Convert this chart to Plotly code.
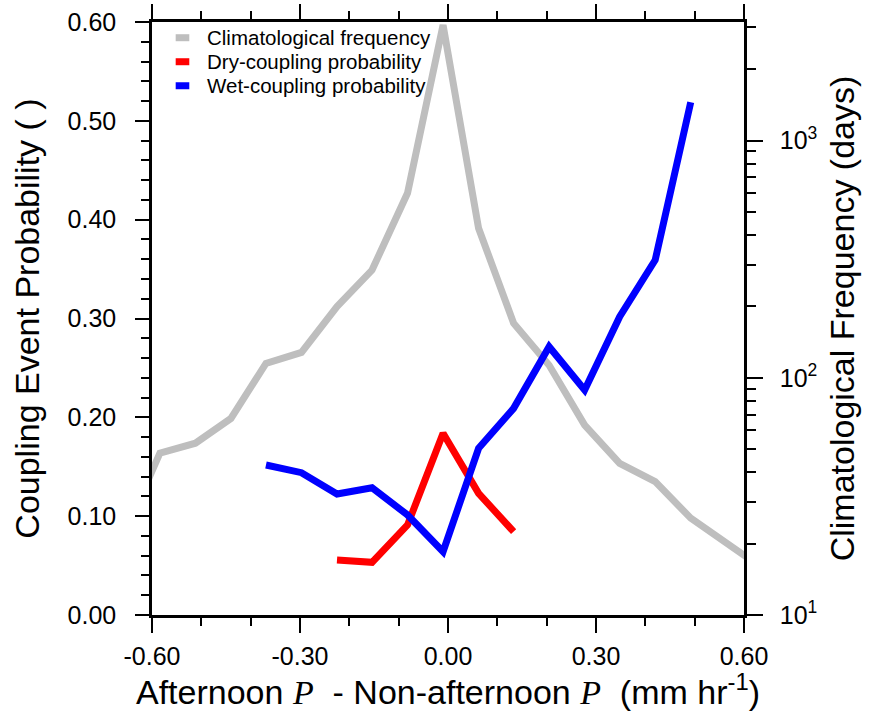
import plotly.graph_objects as go

# Bin centres of afternoon minus non-afternoon precipitation (mm/hr)
x_bins = [-0.655, -0.584, -0.512, -0.440, -0.369, -0.297, -0.225, -0.154, -0.082,
          -0.010, 0.062, 0.133, 0.205, 0.277, 0.348, 0.420, 0.492, 0.563, 0.635]

# Climatological frequency (days), all bins
clim_freq = [22.2, 48.1, 53.0, 67.4, 115, 128, 199.5, 284.6, 601,
             3069, 427, 170, 113, 63.2, 43.6, 36.5, 25.6, 20.2, 15.9]

# Dry-coupling probability (bins -0.225 .. 0.133)
x_dry = [-0.225, -0.154, -0.082, -0.010, 0.062, 0.133]
dry_prob = [0.0557, 0.0533, 0.0911, 0.1839, 0.1231, 0.0843]

# Wet-coupling probability (bins -0.369 .. 0.492)
x_wet = [-0.369, -0.297, -0.225, -0.154, -0.082, -0.010, 0.062, 0.133,
         0.205, 0.277, 0.348, 0.420, 0.492]
wet_prob = [0.1518, 0.1440, 0.1224, 0.1288, 0.1012, 0.0640, 0.1687, 0.2091,
            0.2715, 0.2277, 0.3018, 0.3592, 0.5188]

x_tickvals = [-0.6, -0.3, 0.0, 0.3, 0.6]
x_ticktext = ["-0.60", "-0.30", "0.00", "0.30", "0.60"]
freq_tickvals = [10, 100, 1000]
freq_ticktext = ["10<sup>1</sup>", "10<sup>2</sup>", "10<sup>3</sup>"]
freq_minor = [20, 30, 40, 50, 60, 70, 80, 90, 200, 300, 400, 500, 600, 700, 800, 900, 2000, 3000]

series_names = ["Climatological frequency", "Dry-coupling probability", "Wet-coupling probability"]
series_colors = ["#BEBEBE", "#FF0000", "#0000FF"]

FONT = "Liberation Sans, Arial, Helvetica, sans-serif"

fig = go.Figure()
fig.add_trace(go.Scatter(x=x_bins, y=clim_freq, mode="lines", yaxis="y",
                         name=series_names[0], showlegend=False,
                         line=dict(color=series_colors[0], width=7)))
fig.add_trace(go.Scatter(x=x_dry, y=dry_prob, mode="lines", yaxis="y2",
                         name=series_names[1], showlegend=False,
                         line=dict(color=series_colors[1], width=7)))
fig.add_trace(go.Scatter(x=x_wet, y=wet_prob, mode="lines", yaxis="y2",
                         name=series_names[2], showlegend=False,
                         line=dict(color=series_colors[2], width=7)))

# Compact legend (short keys, tight rows) drawn in paper coordinates
leg_x0, leg_x1, leg_tx = 0.040, 0.063, 0.0895
leg_rows = [0.9735, 0.933, 0.8925]
for name, col, yy in zip(series_names, series_colors, leg_rows):
    fig.add_shape(type="line", xref="paper", yref="paper",
                  x0=leg_x0, x1=leg_x1, y0=yy, y1=yy,
                  line=dict(color=col, width=7))
    fig.add_annotation(xref="paper", yref="paper", x=leg_tx, y=yy,
                       text=name, showarrow=False, xanchor="left", yanchor="middle",
                       font=dict(size=20.5, family=FONT, color="black"))

pstyle = "<span style=\"font-family:'Liberation Serif',serif;font-style:italic\">P</span>"
x_title = "Afternoon " + pstyle + "  - Non-afternoon " + pstyle + "  (mm hr<sup>-1</sup>)"

# x-axis title placed as an annotation so it can sit closer to the tick labels
fig.add_annotation(xref="paper", yref="paper", x=0.5, y=-0.126,
                   text=x_title, showarrow=False, xanchor="center", yanchor="middle",
                   font=dict(size=34, family=FONT, color="black"))

fig.update_layout(
    width=876, height=726,
    margin=dict(l=152, r=132, t=22, b=111, autoexpand=False),
    paper_bgcolor="white", plot_bgcolor="white",
    font=dict(family=FONT, color="black"),
    showlegend=False,
    xaxis=dict(
        range=[-0.6, 0.6], tickmode="array", tickvals=x_tickvals, ticktext=x_ticktext,
        ticks="outside", ticklen=15, tickwidth=1.5, tickcolor="black",
        minor=dict(dtick=0.1, tick0=-0.6, ticks="outside", ticklen=8, tickwidth=1.5, tickcolor="black"),
        showline=True, linewidth=2.5, linecolor="black", mirror="ticks",
        showgrid=False, zeroline=False,
        tickfont=dict(size=25), ticklabelstandoff=2,
    ),
    yaxis=dict(
        type="log", range=[1, 3.5], side="right",
        tickmode="array", tickvals=freq_tickvals, ticktext=freq_ticktext,
        ticks="outside", ticklen=16, tickwidth=1.5, tickcolor="black",
        minor=dict(tickmode="array", tickvals=freq_minor, ticks="outside", ticklen=9,
                   tickwidth=1.5, tickcolor="black"),
        showline=True, linewidth=2.5, linecolor="black",
        showgrid=False, zeroline=False,
        tickfont=dict(size=25), ticklabelstandoff=12,
        title=dict(text="Climatological Frequency (days)", font=dict(size=34), standoff=14),
    ),
    yaxis2=dict(
        overlaying="y", side="left", range=[0, 0.6],
        tickmode="linear", tick0=0, dtick=0.1, tickformat=".2f",
        ticks="outside", ticklen=14, tickwidth=1.5, tickcolor="black",
        minor=dict(dtick=0.02, tick0=0, ticks="outside", ticklen=8, tickwidth=1.5, tickcolor="black"),
        showline=True, linewidth=2.5, linecolor="black",
        showgrid=False, zeroline=False,
        tickfont=dict(size=25), ticklabelstandoff=14,
        title=dict(text="Coupling Event Probability ( )", font=dict(size=34), standoff=18),
    ),
)

fig.write_html("out.html")
